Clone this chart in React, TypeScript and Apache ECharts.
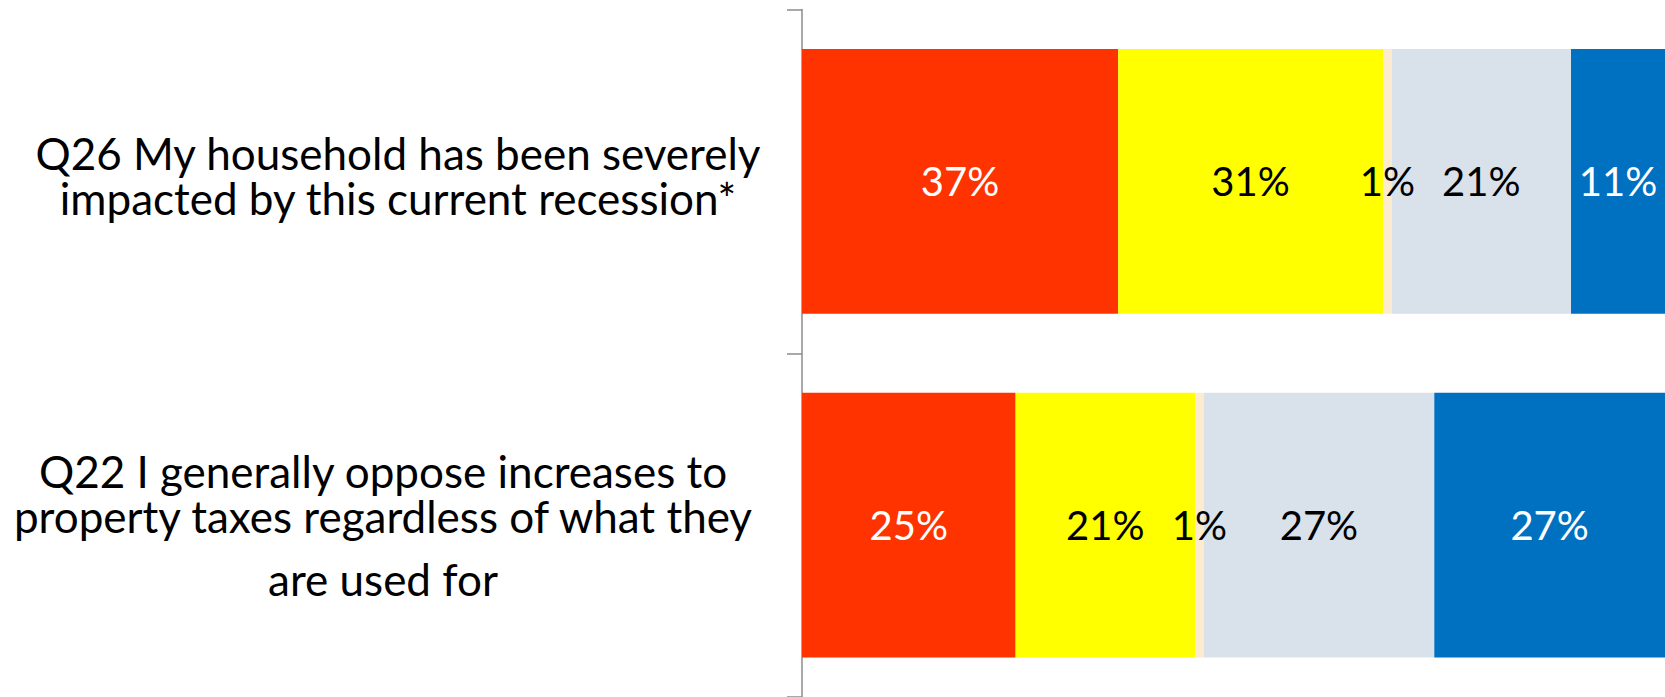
import React, { useEffect, useRef } from "react";
import * as echarts from "echarts";

const categories = [
  "Q26 My household has been severely\nimpacted by this current recession*",
  "Q22 I generally oppose increases to\nproperty taxes regardless of what they\nare used for",
];
const seriesNames = ["Strongly agree", "Somewhat agree", "Don't know", "Somewhat disagree", "Strongly disagree"];
const stronglyAgree = [37, 25];
const somewhatAgree = [31, 21];
const dontKnow = [1, 1];
const somewhatDisagree = [21, 27];
const stronglyDisagree = [11, 27];
const seriesColors = ["#FF3300", "#FFFF00", "#FDEBCF", "#D9E2EB", "#0070C0"];
const labelColors = ["#FFFFFF", "#000000", "#000000", "#000000", "#FFFFFF"];

const FONT = "Lato, 'Open Sans', sans-serif";

function formatCategory(value: string, index: number): string {
  const lines = value.split("\n");
  if (index === 0) {
    return lines.map((l) => `{r1|${l}}`).join("\n") + "\n{g1| }";
  }
  const out = ["{g2| }"];
  lines.forEach((l, i) => {
    out.push(i === lines.length - 1 ? `{last|${l}}` : `{r2|${l}}`);
  });
  return out.join("\n");
}

export default function App() {
  const ref = useRef<HTMLDivElement>(null);
  useEffect(() => {
    if (!ref.current) return;
    const chart = echarts.init(ref.current, undefined, { renderer: "svg" });
    const values = [stronglyAgree, somewhatAgree, dontKnow, somewhatDisagree, stronglyDisagree];
    const base = { fontFamily: FONT, fontSize: 44, color: "#000000" };
    chart.setOption({
      animation: false,
      backgroundColor: "#FFFFFF",
      grid: { left: 802, right: 0, top: 9.5, bottom: 0, containLabel: false },
      xAxis: {
        type: "value",
        min: 0,
        max: 101,
        show: false,
      },
      yAxis: {
        type: "category",
        inverse: true,
        data: categories,
        axisLine: { show: true, lineStyle: { color: "#8C8C8C", width: 1.5 } },
        axisTick: { show: true, length: 15, lineStyle: { color: "#8C8C8C", width: 1.5 } },
        axisLabel: {
          align: "center",
          margin: 419,
          fontFamily: FONT,
          fontSize: 44,
          color: "#000000",
          formatter: formatCategory,
          rich: {
            r1: { ...base, lineHeight: 45, padding: [0, 0, 0, 30] },
            g1: { ...base, fontSize: 4, lineHeight: 11 },
            g2: { ...base, fontSize: 4, lineHeight: 17 },
            r2: { ...base, lineHeight: 45 },
            last: { ...base, lineHeight: 81 },
          },
        },
        splitLine: { show: false },
      },
      series: seriesNames.map((name, i) => ({
        name,
        type: "bar",
        stack: "total",
        barWidth: "77%",
        data: values[i],
        itemStyle: { color: seriesColors[i] },
        label: {
          show: true,
          position: "inside",
          formatter: "{c}%",
          color: labelColors[i],
          fontFamily: FONT,
          fontSize: 40,
        },
      })),
    });
    return () => chart.dispose();
  }, []);
  return (
    <div
      ref={ref}
      style={{ position: "fixed", left: 0, top: 0, width: 1665, height: 697, background: "#fff" }}
    />
  );
}
